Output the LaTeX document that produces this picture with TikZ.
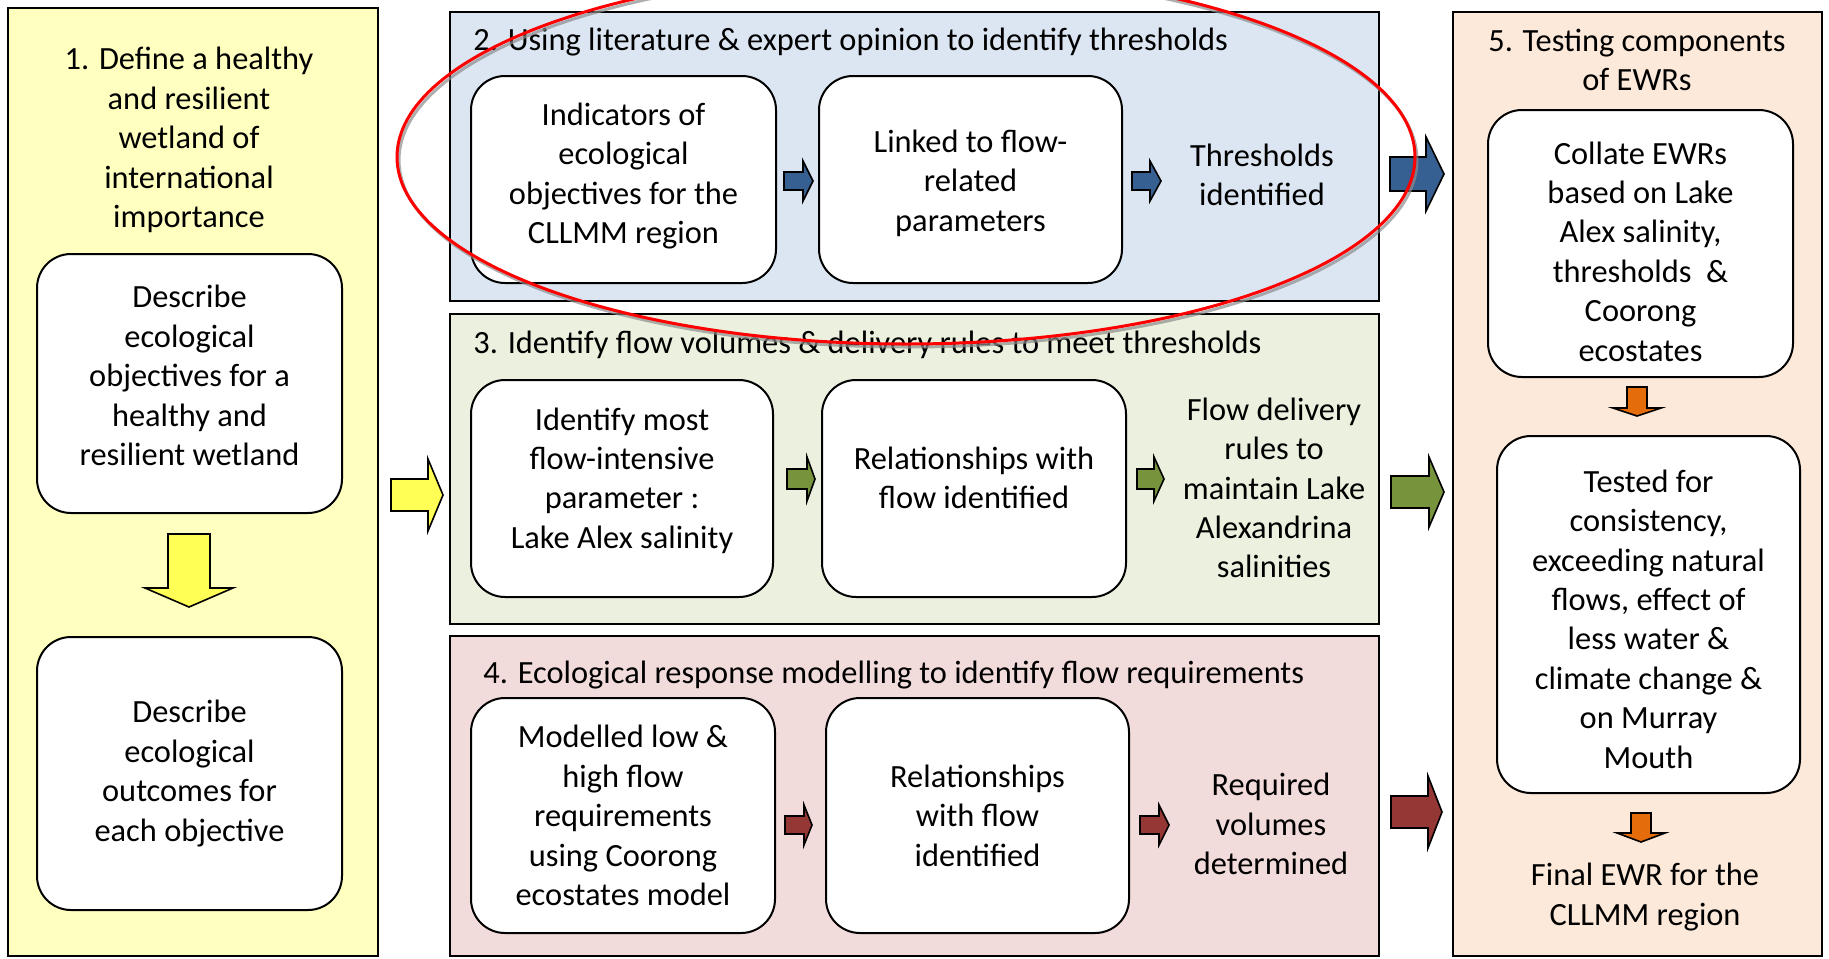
\documentclass[tikz,border=0pt]{standalone}
\usepackage{fontspec}
\setmainfont{Carlito}
\definecolor{pYellow}{RGB}{255,255,192}
\definecolor{pBlue}{RGB}{220,230,242}
\definecolor{pGreen}{RGB}{235,241,222}
\definecolor{pPink}{RGB}{242,220,219}
\definecolor{pOrange}{RGB}{253,233,217}
\definecolor{aYellow}{RGB}{255,255,85}
\definecolor{aBlue}{RGB}{55,96,146}
\definecolor{aGreen}{RGB}{119,147,60}
\definecolor{aRed}{RGB}{149,55,53}
\definecolor{aOrange}{RGB}{228,108,10}
\newcommand\RArr[7]{\draw[arrowline, fill=#7] (#1,#4-#5) -- (#2,#4-#5) -- (#2,#4-#6) -- (#3,#4) -- (#2,#4+#6) -- (#2,#4+#5) -- (#1,#4+#5) -- cycle;}
\newcommand\DArr[7]{\draw[arrowline, fill=#7] (#1-#5,#2) -- (#1-#5,#3) -- (#1-#6,#3) -- (#1,#4) -- (#1+#6,#3) -- (#1+#5,#3) -- (#1+#5,#2) -- cycle;}
\begin{document}
\begin{tikzpicture}[x=0.5pt,y=-0.5pt,
  font=\fontsize{16.2pt}{19.7pt}\selectfont,
  panel/.style={draw=black, line width=1pt, inner sep=0pt},
  rbox/.style={draw=black, fill=white, line width=1pt, rounded corners=17pt, inner sep=0pt},
  txt/.style={align=center, inner sep=0pt},
  arrowline/.style={draw=black, line width=0.8pt, line join=miter}]
\clip (0,0) rectangle (1829,958);
\fill[white] (0,0) rectangle (1829,958);

% panels
\node[panel, fill=pYellow, minimum width=185pt, minimum height=474pt] (p1) at (193,482) {};
\node[panel, fill=pBlue, minimum width=464.5pt, minimum height=144.5pt] (p2) at (914.5,156.5) {};
\node[panel, fill=pGreen, minimum width=464.5pt, minimum height=155pt] (p3) at (914.5,469) {};
\node[panel, fill=pPink, minimum width=464.5pt, minimum height=160pt] (p4) at (914.5,796) {};
\node[panel, fill=pOrange, minimum width=184.5pt, minimum height=472pt] (p5) at (1637.5,484) {};

% panel 1
\node[txt] (h1) at (189,140) {1. Define a healthy\\and resilient\\wetland of\\international\\importance};
\node[rbox, minimum width=152.5pt, minimum height=129.5pt] (b11) at (189.5,383.5) {};
\node[txt] (b11t) at (189.5,375.5) {Describe\\ecological\\objectives for a\\healthy and\\resilient wetland};
\node[rbox, minimum width=152.5pt, minimum height=136.5pt] (b12) at (189.5,773.5) {};
\node[txt] (b12t) at (189.5,773.5) {Describe\\ecological\\outcomes for\\each objective};
\DArr{189}{534}{588}{607}{21}{44}{aYellow}
\RArr{391}{428}{443}{495}{16}{36}{aYellow}

% panel 2
\node[txt, anchor=west] (h2) at (473,42) {2. Using literature \& expert opinion to identify thresholds};
\node[rbox, minimum width=152.5pt, minimum height=103.5pt] (b21) at (623.5,179.5) {};
\node[txt] (b21t) at (623.5,176) {Indicators of\\ecological\\objectives for the\\CLLMM region};
\node[rbox, minimum width=151.5pt, minimum height=103.5pt] (b22) at (970.5,179.5) {};
\node[txt] (b22t) at (970.5,183) {Linked to flow-\\related\\parameters};
\node[txt] (t23) at (1262,175) {Thresholds\\identified};
\RArr{784}{803}{813}{181}{9}{20}{aBlue}
\RArr{1132}{1150}{1161}{181}{9}{20}{aBlue}
\RArr{1390}{1426}{1444}{174}{17}{37}{aBlue}

% panel 3
\node[txt, anchor=west] (h3) at (473,345) {3. Identify flow volumes \& delivery rules to meet thresholds};
\node[rbox, minimum width=151pt, minimum height=108.5pt] (b31) at (622,488.5) {};
\node[txt] (b31t) at (622,480.5) {Identify most\\flow-intensive\\parameter :\\Lake Alex salinity};
\node[rbox, minimum width=152pt, minimum height=108.5pt] (b32) at (974,488.5) {};
\node[txt] (b32t) at (974,478) {Relationships with\\flow identified};
\node[txt] (t33) at (1274,488) {Flow delivery\\rules to\\maintain Lake\\Alexandrina\\salinities};
\RArr{787}{807}{815}{479}{10}{22}{aGreen}
\RArr{1137}{1154}{1164}{479}{10}{22}{aGreen}
\RArr{1391}{1429}{1444}{492}{16}{35}{aGreen}

% panel 4
\node[txt, anchor=west] (h4) at (483,675) {4. Ecological response modelling to identify flow requirements};
\node[rbox, minimum width=152pt, minimum height=117.5pt] (b41) at (623,815.5) {};
\node[txt] (b41t) at (623,815.5) {Modelled low \&\\high flow\\requirements\\using Coorong\\ecostates model};
\node[rbox, minimum width=151.5pt, minimum height=117.5pt] (b42) at (977.5,815.5) {};
\node[txt] (b42t) at (977.5,815.5) {Relationships\\with flow\\identified};
\node[txt] (t43) at (1271,824) {Required\\volumes\\determined};
\RArr{785}{804}{812}{825}{9}{20}{aRed}
\RArr{1140}{1159}{1169}{825}{9}{20}{aRed}
\RArr{1391}{1428}{1442}{812}{16}{36}{aRed}

% panel 5
\node[txt] (h5) at (1637,60) {5. Testing components\\of EWRs};
\node[rbox, minimum width=152.5pt, minimum height=133.5pt] (b51) at (1640.5,243.5) {};
\node[txt] (b51t) at (1640.5,251.5) {Collate EWRs\\based on Lake\\Alex salinity,\\thresholds~ \&\\Coorong\\ecostates};
\node[rbox, minimum width=151.5pt, minimum height=178.5pt] (b52) at (1648.5,614.5) {};
\node[txt] (b52t) at (1648.5,619) {Tested for\\consistency,\\exceeding natural\\flows, effect of\\less water \&\\climate change \&\\on Murray\\Mouth};
\node[txt] (t53) at (1645,897) {Final EWR for the\\CLLMM region};
\DArr{1637}{387}{408}{416}{10}{24}{aOrange}
\DArr{1641}{813}{833}{842}{10}{24}{aOrange}

% red ellipse annotation
\draw[black!45, opacity=0.7, line width=1.5pt] (908,160) ellipse [x radius=254.5pt, y radius=93.5pt];
\draw[red, line width=1.5pt] (906,157) ellipse [x radius=254.5pt, y radius=93.5pt];
\end{tikzpicture}
\end{document}
